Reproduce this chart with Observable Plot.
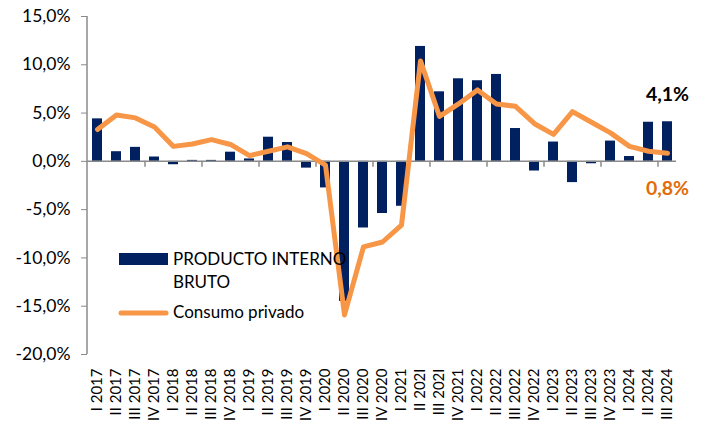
<!DOCTYPE html>
<html>
<head>
<meta charset="utf-8">
<script src="https://cdn.jsdelivr.net/npm/d3@7"></script>
<script src="https://cdn.jsdelivr.net/npm/@observablehq/plot@0.6"></script>
<style>
  html, body { margin: 0; padding: 0; background: #fff; }
  #chart svg { display: block; }
</style>
</head>
<body>
<div id="chart"></div>
<script>
const quarters = ["I 2017","II 2017","III 2017","IV 2017","I 2018","II 2018","III 2018","IV 2018",
  "I 2019","II 2019","III 2019","IV 2019","I 2020","II 2020","III 2020","IV 2020",
  "I 2021","II 202I","III 202I","IV 2021","I 2022","II 2022","III 2022","IV 2022",
  "I 2023","II 2023","III 2023","IV 2023","I 2024","II 2024","III 2024"];

const pib = [4.4,1.0,1.45,0.45,-0.35,0.1,0.1,0.95,0.25,2.5,1.95,-0.7,-2.75,-14.5,-6.9,-5.4,
  -4.65,11.9,7.2,8.55,8.35,9.0,3.4,-1.0,2.0,-2.2,-0.25,2.1,0.5,4.05,4.1];

const consumo = [3.3,4.8,4.5,3.55,1.55,1.8,2.25,1.75,0.6,1.05,1.5,0.8,-0.4,-15.9,-8.85,-8.35,
  -6.6,10.4,4.65,5.95,7.4,5.95,5.7,3.9,2.8,5.15,4.05,2.95,1.55,1.05,0.85];

const yTicks = [-20,-15,-10,-5,0,5,10,15];
const seriesNames = ["PRODUCTO INTERNO", "BRUTO", "Consumo privado"];
const annotations = [
  {q: "III 2024", value: 4.1, text: "4,1%"},
  {q: "III 2024", value: 0.8, text: "0,8%"}
];

const table = quarters.map((q, i) => ({q, pib: pib[i], consumo: consumo[i]}));
// category boundaries where Excel draws tick marks (every 3 categories)
const tickQs = quarters.filter((q, i) => i > 0 && i % 3 === 0);

const fmt = d => d.toFixed(1).replace(".", ",") + "%";
const axisGray = "#8a8a8a";

const plot = Plot.plot({
  width: 708,
  height: 431,
  marginLeft: 87,
  marginRight: 32,
  marginTop: 16,
  marginBottom: 77,
  style: {fontFamily: "Lato, sans-serif", background: "#fff", color: "#000"},
  x: {type: "band", domain: quarters, paddingInner: 0.5, paddingOuter: 0.25, axis: null},
  y: {domain: [-20, 15], axis: null},
  marks: [
    Plot.barY(table, {x: "q", y: "pib", fill: "#002060"}),
    Plot.ruleY([0], {stroke: axisGray, strokeWidth: 1.5}),
    Plot.ruleX(tickQs, {x: d => d, y1: 0, y2: -0.6, dx: -9.5, stroke: axisGray, strokeWidth: 1.5}),
    Plot.lineY(table, {x: "q", y: "consumo", stroke: "#F79646", strokeWidth: 5, strokeLinejoin: "round", strokeLinecap: "round"}),
    Plot.axisY({ticks: yTicks, tickFormat: fmt, tickSize: 6, tickPadding: 11, fontSize: 17.5, stroke: axisGray, fill: "#000", label: null}),
    Plot.axisX({tickRotate: -90, tickSize: 0, tickPadding: 14, fontSize: 15, fill: "#000", label: null}),
    Plot.text([annotations[0]], {x: "q", y: "value", text: "text", dy: -27, fill: "#000", fontSize: 19.5, fontWeight: "bold"}),
    Plot.text([annotations[1]], {x: "q", y: "value", text: "text", dy: 35, fill: "#E26B0A", fontSize: 19.5, fontWeight: "bold"})
  ]
});

document.getElementById("chart").appendChild(plot);

// y axis line, from the plot's own scales
const svg = d3.select(plot);
const xs = plot.scale("x"), ys = plot.scale("y");
svg.append("line")
  .attr("x1", xs.range[0]).attr("x2", xs.range[0])
  .attr("y1", ys.apply(15)).attr("y2", ys.apply(-20))
  .attr("stroke", axisGray).attr("stroke-width", 1.5);

// legend
const lg = svg.append("g").attr("font-family", "Lato, sans-serif").attr("font-size", 17)
  .attr("fill", "#000").attr("text-anchor", "start");
lg.append("rect").attr("x", 119).attr("y", 253).attr("width", 49).attr("height", 12).attr("fill", "#002060");
lg.append("text").attr("x", 173).attr("y", 265).text(seriesNames[0]);
lg.append("text").attr("x", 173).attr("y", 288).text(seriesNames[1]);
lg.append("line").attr("x1", 121).attr("x2", 166).attr("y1", 313).attr("y2", 313)
  .attr("stroke", "#F79646").attr("stroke-width", 5).attr("stroke-linecap", "round");
lg.append("text").attr("x", 173).attr("y", 318).text(seriesNames[2]);
</script>
</body>
</html>
